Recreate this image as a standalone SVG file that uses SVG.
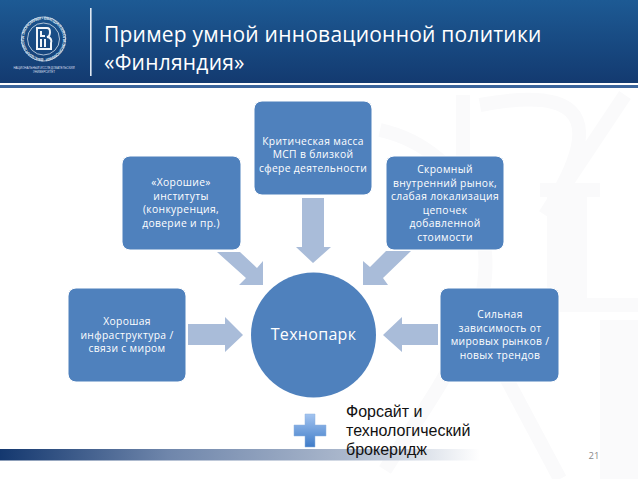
<svg xmlns="http://www.w3.org/2000/svg" width="638" height="479" viewBox="0 0 638 479">
<style>
.box{fill:#4f81bd;stroke:#fff;stroke-width:1}
.arr{fill:#a9bcd9}
.lbl{font-family:"Open Sans","Liberation Sans",sans-serif;font-size:10.3px;letter-spacing:.35px;fill:#fff;text-anchor:middle}
.wm{fill:none;stroke:#fafafb}
.ttl{font-family:"Open Sans","Liberation Sans",sans-serif;font-size:21px;letter-spacing:.23px;fill:#fff}
.cap{font-family:"Liberation Sans",sans-serif;font-size:3px;fill:#d5dfeb;text-anchor:middle}
.fs{font-family:"Liberation Sans",sans-serif;font-size:16px;fill:#111}
</style>
<defs>
<linearGradient id="hd" x1="0" y1="0" x2="0" y2="1"><stop offset="0" stop-color="#1d5a94"/><stop offset="1" stop-color="#133a70"/></linearGradient>
<linearGradient id="ft" x1="0" y1="0" x2="1" y2="0"><stop offset="0" stop-color="#14386f"/><stop offset=".35" stop-color="#6f86ab"/><stop offset=".72" stop-color="#aab7cc"/><stop offset="1" stop-color="#fff"/></linearGradient>
<linearGradient id="pl" x1="0" y1="0" x2="0" y2="1"><stop offset="0" stop-color="#a3c4f0"/><stop offset="1" stop-color="#3f7cc8"/></linearGradient>
<path id="ring" d="M43.500 58.500A19.500 19.500 0 1 1 43.501 58.500"/>
</defs>
<rect width="638" height="479" fill="#fff"/>
<g id="watermark">
<path class="wm" stroke-width="14" d="M463 95V200M480 105C560 90 620 100 545 215L625 95M380 130C470 150 510 250 470 330C440 390 410 430 385 470M540 190H600M470 310L560 479M480 305H638"/>
<path class="wm" stroke-width="40" d="M567 195V300M620 320V479"/>
</g>
<g id="header">
<rect width="638" height="83" fill="url(#hd)"/>
<rect y="85" width="638" height="3" fill="#3b659c"/>
<rect x="90" y="8" width="1.600" height="68" fill="#dfe8f2"/>
<circle cx="43.500" cy="39" r="22" fill="none" stroke="#d5dfeb" stroke-width=".8"/>
<circle cx="43.500" cy="39" r="16" fill="none" stroke="#d5dfeb" stroke-width=".8"/>
<text font-family="Liberation Sans, sans-serif" font-size="4.200" font-weight="bold" fill="#dfe8f2" textLength="120"><textPath href="#ring">ВЫСШАЯ ШКОЛА ЭКОНОМИКИ • ВЫСШАЯ ШКОЛА ЭКОНОМИКИ</textPath></text>
<path d="M37 28H47C51 28 51 36 47 37C51 37 52 41 51 43V49H37ZM41 31V36H45M41 39V47M45 39V47" fill="none" stroke="#f2f5f9" stroke-width="2"/>
<text class="cap" x="44" y="68.500">НАЦИОНАЛЬНЫЙ ИССЛЕДОВАТЕЛЬСКИЙ</text>
<text class="cap" x="44" y="72.700">УНИВЕРСИТЕТ</text>
<text class="ttl" x="104" y="42">Пример умной инновационной политики</text>
<text class="ttl" x="104" y="70">«Финляндия»</text>
</g>
<g id="footer">
<rect y="449" width="480" height="11.500" fill="url(#ft)"/>
<text x="594" y="459" font-family="Open Sans, Liberation Sans, sans-serif" font-size="9.500" fill="#8a8a8a" text-anchor="middle">21</text>
</g>
<g id="connectors">
<path class="arr" d="M188 324H225V317L243 335L225 352V345H188Z"/>
<path class="arr" d="M217 252H240L257 268L263 261V285H239L246 278Z"/>
<path class="arr" d="M302 198H324V247H331L313 263L296 247H302Z"/>
<path class="arr" d="M411 251H386L370 267L363 261V285H388L383 278Z"/>
<path class="arr" d="M438 324H402V317L383 335L402 352V345H438Z"/>
</g>
<g id="node-infra">
<rect class="box" x="68" y="288" width="118" height="94" rx="8"/>
<text class="lbl" x="127" y="325">Хорошая</text>
<text class="lbl" x="127" y="338.500">инфраструктура /</text>
<text class="lbl" x="127" y="352">связи с миром</text>
</g>
<g id="node-inst">
<rect class="box" x="122" y="156" width="119" height="94" rx="8"/>
<text class="lbl" x="181" y="186">«Хорошие»</text>
<text class="lbl" x="181" y="200">институты</text>
<text class="lbl" x="181" y="213">(конкуренция,</text>
<text class="lbl" x="181" y="227">доверие и пр.)</text>
</g>
<g id="node-msp">
<rect class="box" x="254" y="101" width="118" height="94" rx="8"/>
<text class="lbl" x="313" y="145">Критическая масса</text>
<text class="lbl" x="313" y="158">МСП в близкой</text>
<text class="lbl" x="313" y="172">сфере деятельности</text>
</g>
<g id="node-market">
<rect class="box" x="386" y="156" width="118" height="94" rx="8"/>
<text class="lbl" x="445" y="173">Скромный</text>
<text class="lbl" x="445" y="187">внутренний рынок,</text>
<text class="lbl" x="445" y="200">слабая локализация</text>
<text class="lbl" x="445" y="214">цепочек</text>
<text class="lbl" x="445" y="227">добавленной</text>
<text class="lbl" x="445" y="241">стоимости</text>
</g>
<g id="node-dep">
<rect class="box" x="440" y="288" width="119" height="94" rx="8"/>
<text class="lbl" x="500" y="318">Сильная</text>
<text class="lbl" x="500" y="332">зависимость от</text>
<text class="lbl" x="500" y="345">мировых рынков /</text>
<text class="lbl" x="500" y="359">новых трендов</text>
</g>
<g id="node-park">
<circle cx="313.500" cy="335" r="62.500" fill="#4f81bd"/>
<text x="313.500" y="340" font-family="Open Sans, Liberation Sans, sans-serif" font-size="16px" letter-spacing=".3" fill="#fff" text-anchor="middle">Технопарк</text>
</g>
<g id="node-foresight">
<path d="M305 414H315V425H326V436H315V447H305V436H294V425H305Z" fill="url(#pl)" stroke="#8fb0dc" stroke-width=".5"/>
<text class="fs" x="346" y="417">Форсайт и</text>
<text class="fs" x="346" y="436">технологический</text>
<text class="fs" x="346" y="455">брокеридж</text>
</g>
</svg>
